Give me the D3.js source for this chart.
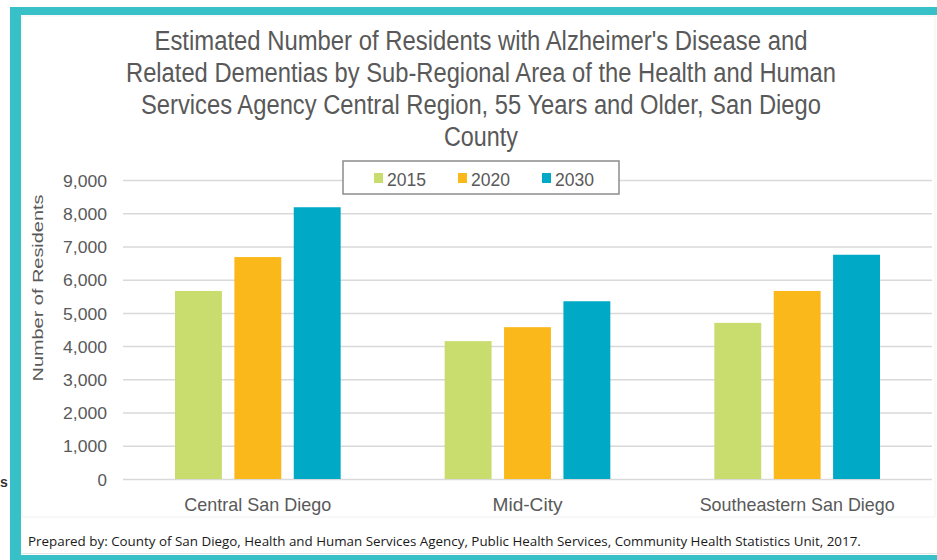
<!DOCTYPE html>
<html><head><meta charset="utf-8">
<script src="https://cdn.jsdelivr.net/npm/d3@7"></script>
<style>html,body{margin:0;padding:0;background:#fff;}svg{display:block;}</style>
</head><body>
<svg id="chart" width="937" height="560"></svg>
<script>
const categories = ["Central San Diego", "Mid-City", "Southeastern San Diego"];
const years = ["2015", "2020", "2030"];
const values2015 = [5660, 4150, 4700];
const values2020 = [6680, 4570, 5660];
const values2030 = [8180, 5350, 6750];
const yTicks = [0, 1000, 2000, 3000, 4000, 5000, 6000, 7000, 8000, 9000];
const titleLines = [
  "Estimated Number of Residents with Alzheimer's Disease and",
  "Related Dementias by Sub-Regional Area of the Health and Human",
  "Services Agency Central Region, 55 Years and Older, San Diego",
  "County"
];
const yTitle = "Number of Residents";
const footer = "Prepared by: County of San Diego, Health and Human Services Agency, Public Health Services, Community Health Statistics Unit, 2017.";

const seriesValues = {"2015": values2015, "2020": values2020, "2030": values2030};
const colors = {"2015": "#c9dc6e", "2020": "#fbb81b", "2030": "#00a9c5"};

const svg = d3.select("#chart");
const font = "'Liberation Sans', Arial, sans-serif";

// frame
svg.append("rect").attr("x", 10).attr("y", 7).attr("width", 927).attr("height", 553).attr("fill", "#38c0c8");
svg.append("rect").attr("x", 21).attr("y", 15).attr("width", 916).attr("height", 540).attr("fill", "#ffffff");
svg.append("rect").attr("x", 22).attr("y", 16).attr("width", 913).attr("height", 501).attr("fill", "none").attr("stroke", "#f1f1f1");
svg.append("line").attr("x1", 21).attr("x2", 937).attr("y1", 553.5).attr("y2", 553.5).attr("stroke", "#e6e6e6");

// stray cropped text at left
svg.append("text").attr("x", 0).attr("y", 487).attr("font-family", font).attr("font-size", 14).attr("font-weight", "bold").attr("fill", "#333").text("s");

const plot = {left: 123, right: 932, top: 180, bottom: 479};
const y = d3.scaleLinear().domain([0, 9000]).range([plot.bottom, plot.top]);
const x0 = d3.scaleBand().domain(categories).range([plot.left, plot.right]).padding(0);
const x1 = d3.scaleBand().domain(years).range([52, x0.bandwidth() - 52]).paddingInner(0.21).paddingOuter(0);

// gridlines
const grid = svg.append("g").attr("transform", `translate(${plot.left},0)`)
  .call(d3.axisLeft(y).tickValues(yTicks).tickSize(-(plot.right - plot.left)).tickFormat(""));
grid.select(".domain").remove();
grid.selectAll("line").attr("stroke", "#d9d9d9").attr("stroke-width", 1.5);

// y axis labels
const yAxis = svg.append("g").attr("transform", `translate(107,0)`)
  .call(d3.axisLeft(y).tickValues(yTicks).tickSize(0).tickPadding(0).tickFormat(d3.format(",")));
yAxis.select(".domain").remove();
yAxis.selectAll("text").attr("font-family", font).attr("font-size", 17).attr("fill", "#595959").attr("dy", "0.36em")
  .attr("textLength", d => d === 0 ? null : 44).attr("lengthAdjust", "spacingAndGlyphs");

// bars
const groups = svg.append("g").selectAll("g").data(categories).join("g")
  .attr("transform", d => `translate(${x0(d)},0)`);
groups.selectAll("rect").data((d, i) => years.map(yr => ({yr, v: seriesValues[yr][i]}))).join("rect")
  .attr("x", d => x1(d.yr)).attr("width", x1.bandwidth())
  .attr("y", d => y(d.v)).attr("height", d => y(0) - y(d.v))
  .attr("fill", d => colors[d.yr]);

// x axis labels
const xAxis = svg.append("g").attr("transform", `translate(0,${plot.bottom})`)
  .call(d3.axisBottom(x0).tickSize(0).tickPadding(0));
xAxis.select(".domain").remove();
const catWidths = [147, 70, 195];
xAxis.selectAll("text").attr("font-family", font).attr("font-size", 19).attr("fill", "#595959")
  .attr("dy", "1.67em")
  .attr("textLength", (d, i) => catWidths[i]).attr("lengthAdjust", "spacingAndGlyphs");

// title
const titleWidths = [653, 710, 680, 74];
const titleBase = [50, 82, 114, 146];
svg.append("g").selectAll("text").data(titleLines).join("text")
  .attr("x", 481).attr("y", (d, i) => titleBase[i])
  .attr("text-anchor", "middle").attr("font-family", font).attr("font-size", 27).attr("fill", "#595959")
  .attr("textLength", (d, i) => titleWidths[i]).attr("lengthAdjust", "spacingAndGlyphs")
  .text(d => d);

// y title
svg.append("text").attr("transform", "translate(43,288) rotate(-90)")
  .attr("text-anchor", "middle").attr("font-family", font).attr("font-size", 15).attr("fill", "#595959")
  .attr("textLength", 187).attr("lengthAdjust", "spacingAndGlyphs").text(yTitle);

// legend
const legend = svg.append("g");
legend.append("rect").attr("x", 343).attr("y", 161).attr("width", 276).attr("height", 33)
  .attr("fill", "#fff").attr("stroke", "#8c8c8c").attr("stroke-width", 1.5);
const legX = [374, 458, 542];
const li = legend.selectAll("g.item").data(years).join("g").attr("class", "item")
  .attr("transform", (d, i) => `translate(${legX[i]},0)`);
li.append("rect").attr("x", 0).attr("y", 173).attr("width", 9).attr("height", 10).attr("fill", d => colors[d]);
li.append("text").attr("x", 13).attr("y", 186).attr("font-family", font).attr("font-size", 19).attr("fill", "#595959")
  .attr("textLength", 39).attr("lengthAdjust", "spacingAndGlyphs").text(d => d);

// footer: size the font so the natural width fits the target width
const footerText = svg.append("text").attr("x", 28).attr("y", 546)
  .attr("font-family", "'Open Sans', 'Noto Sans', sans-serif")
  .attr("font-size", 15).attr("fill", "#1a1a1a").text(footer);
const natural = footerText.node().getComputedTextLength();
if (natural > 0) footerText.attr("font-size", 15 * 834 / natural);
</script>
</body></html>
